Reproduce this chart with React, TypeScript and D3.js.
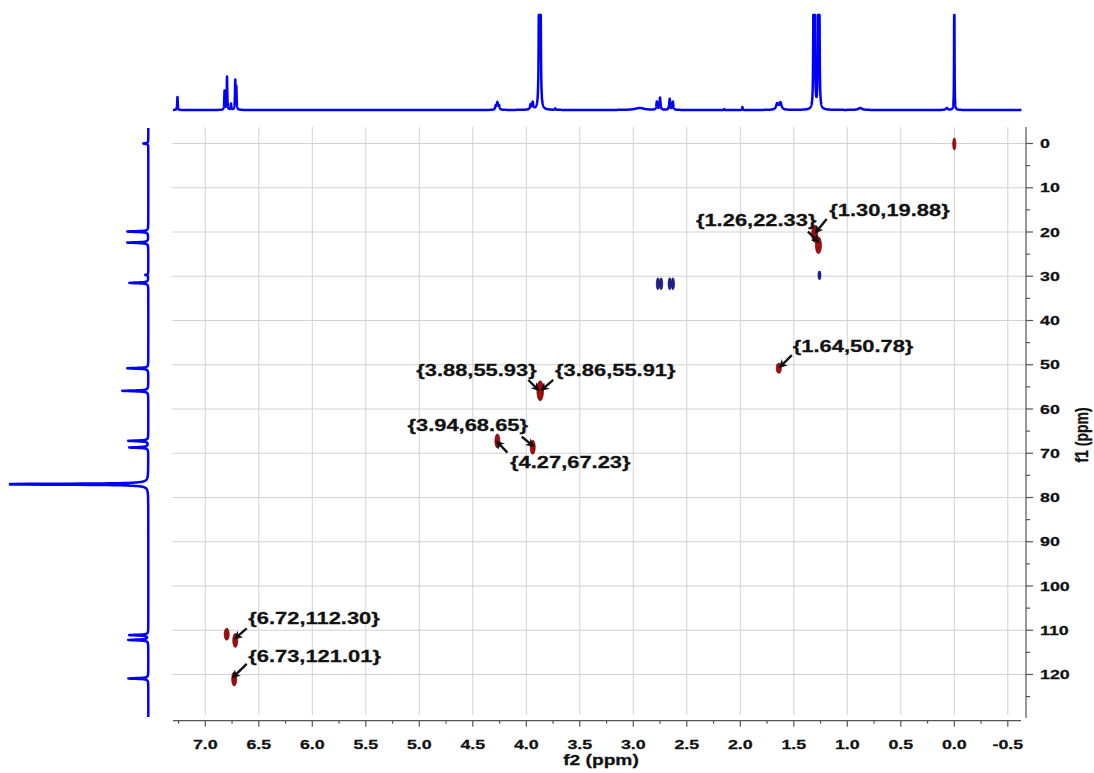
import React from "react";
import * as d3 from "d3";

// ---------- data ----------
const f2Ticks = [7.0, 6.5, 6.0, 5.5, 5.0, 4.5, 4.0, 3.5, 3.0, 2.5, 2.0, 1.5, 1.0, 0.5, 0.0, -0.5];
const f2TickLabels = ["7.0", "6.5", "6.0", "5.5", "5.0", "4.5", "4.0", "3.5", "3.0", "2.5", "2.0", "1.5", "1.0", "0.5", "0.0", "-0.5"];
const f1Ticks = [0, 10, 20, 30, 40, 50, 60, 70, 80, 90, 100, 110, 120];

// 1H projection peaks: ppm, height, half-width (ppm)
const hPpm = [7.26, 6.82, 6.797, 6.76, 6.72, 6.71, 4.285, 4.27, 4.255, 3.96, 3.94, 3.88, 3.868, 3.73, 2.94, 2.78, 2.75, 2.66, 2.63, 2.15, 1.98, 1.655, 1.625, 1.315, 1.305, 1.272, 1.262, 0.88, 0.07, 0.0];
const hHeight = [13, 19, 33, 6, 29, 22, 4, 7, 4, 5, 7, 220, 220, 1.5, 2, 8, 12, 11, 8, 1, 3, 6, 7, 200, 220, 200, 220, 2, 2, 220];
const hWidth = [0.003, 0.003, 0.003, 0.003, 0.003, 0.003, 0.006, 0.006, 0.006, 0.006, 0.006, 0.003, 0.003, 0.004, 0.05, 0.005, 0.005, 0.005, 0.005, 0.002, 0.002, 0.012, 0.012, 0.0025, 0.0025, 0.0025, 0.0025, 0.02, 0.01, 0.0015];

// 13C projection peaks: ppm, height
const cPpm = [0.0, 19.9, 22.4, 29.7, 31.5, 50.8, 55.9, 67.2, 68.7, 77.0, 111.1, 112.2, 120.9];
const cHeight = [5, 21, 21, 3, 19, 21, 26, 20, 19, 200, 19, 20, 20];

// HSQC cross peaks
const crossF2 = [0.0, 1.305, 1.27, 1.26, 2.77, 2.74, 2.66, 2.63, 1.64, 3.87, 4.27, 3.94, 6.80, 6.72, 6.73];
const crossF1 = [0.1, 20.4, 23.0, 29.8, 31.7, 31.7, 31.7, 31.7, 50.78, 55.9, 67.23, 68.65, 110.9, 112.3, 121.01];
const crossSign = [1, 1, 1, -1, -1, -1, -1, -1, 1, 1, 1, 1, 1, 1, 1];
const crossRx = [1.6, 3, 3, 1.5, 1.6, 1.6, 1.6, 1.6, 2.5, 3.3, 2.5, 2.5, 2.5, 2.5, 2.5];
const crossRy = [6, 8.5, 8.5, 4.5, 6, 6, 6, 6, 5, 10, 7, 7, 6, 7, 7];

// peak labels
const labelF2 = [1.30, 1.26, 3.88, 3.86, 3.94, 4.27, 1.64, 6.72, 6.73];
const labelF1 = [19.88, 22.33, 55.93, 55.91, 68.65, 67.23, 50.78, 112.30, 121.01];
const labelText = ["{1.30,19.88}", "{1.26,22.33}", "{3.88,55.93}", "{3.86,55.91}", "{3.94,68.65}", "{4.27,67.23}", "{1.64,50.78}", "{6.72,112.30}", "{6.73,121.01}"];
// layout: text offset, anchor, arrow start offset, arrow end offset (relative to peak px)
const labelLayout = [
  { tx: 14, ty: -15, anchor: "start", ax: 11.5, ay: -12.5, ex: 0.5, ey: 1 },
  { tx: -3, ty: -16, anchor: "end", ax: -11.5, ay: -10.6, ex: -1, ey: -0.5 },
  { tx: -2.4, ty: -15, anchor: "end", ax: -10.8, ay: -11, ex: -0.8, ey: -1 },
  { tx: 13.7, ty: -15, anchor: "start", ax: 12, ay: -11, ex: 0.4, ey: -1 },
  { tx: -4.7, ty: -16.3, anchor: "end", ax: -11, ay: -10.6, ex: 0.3, ey: -1.3 },
  { tx: 12.6, ty: 27.5, anchor: "start", ax: 10, ay: 11.7, ex: -0.4, ey: 0.7 },
  { tx: 14, ty: -16, anchor: "start", ax: 13, ay: -13, ex: 1.2, ey: -1.2 },
  { tx: 13, ty: -16.4, anchor: "start", ax: 11.4, ay: -12, ex: 0, ey: -2 },
  { tx: 14, ty: -17, anchor: "start", ax: 12.5, ay: -15, ex: -1.2, ey: -1.7 },
];

// ---------- layout ----------
const W = 1094, H = 773;
const x = d3.scaleLinear().domain([7.0, 0.0]).range([205.3, 954.3]);
const y = d3.scaleLinear().domain([0, 120]).range([143.5, 674.5]);
const PLOT_L = 172, PLOT_R = 1026, PLOT_T = 127, PLOT_B = 715;
const XAXIS_Y = 720.7, XAXIS_L = 173, XAXIS_R = 1021;
const YAXIS_X = 1026;
const H_BASE = 110, H_TOP = 15;
const C_BASE = 148.3, C_MIN = 10;
const SX = 1.37;
const FONT = "'Liberation Sans', Arial, sans-serif";
const BLUE = "#0000ff";

function lor(v: number, p: number, h: number, w: number) {
  const d = (v - p) / w;
  return h / (1 + d * d);
}

function hSpectrumPath() {
  const p0 = x.invert(XAXIS_L), p1 = x.invert(XAXIS_R + 0.5);
  const pts: [number, number][] = [];
  for (let v = p0; v >= p1; v -= 0.0008) {
    let s = 0;
    for (let i = 0; i < hPpm.length; i++) s += lor(v, hPpm[i], hHeight[i], hWidth[i]);
    pts.push([x(v), Math.max(H_TOP, H_BASE - s)]);
  }
  return d3.line()(pts) || "";
}

function cSpectrumPath() {
  const p0 = y.invert(128), p1 = y.invert(717);
  const pts: [number, number][] = [];
  for (let v = p0; v <= p1; v += 0.02) {
    let s = 0;
    for (let i = 0; i < cPpm.length; i++) s += lor(v, cPpm[i], cHeight[i], 0.1);
    pts.push([Math.max(C_MIN, C_BASE - s), y(v)]);
  }
  return d3.line()(pts) || "";
}

function SText(props: { x: number; y: number; size: number; anchor?: string; children: React.ReactNode; rotate?: boolean }) {
  const t = props.rotate
    ? `translate(${props.x},${props.y}) rotate(-90) scale(1,${SX})`
    : `translate(${props.x},${props.y}) scale(${SX},1)`;
  return (
    <text transform={t} fontFamily={FONT} fontWeight="bold" fontSize={props.size} fill="#111" stroke="#111" strokeWidth={0.25} textAnchor={props.anchor || "start"}>
      {props.children}
    </text>
  );
}

export default function App() {
  const hPath = React.useMemo(hSpectrumPath, []);
  const cPath = React.useMemo(cSpectrumPath, []);

  const minorX: number[] = [];
  for (let v = -0.5; v <= 7.25 + 1e-9; v += 0.25) minorX.push(v);
  const minorY: number[] = [];
  for (let v = 5; v <= 125; v += 10) minorY.push(v);

  return (
    <svg width={W} height={H} style={{ position: "absolute", left: 0, top: 0, background: "#fff" }}>
      <defs>
        <marker id="ah" viewBox="0 0 10 10" refX="8" refY="5" markerWidth="3.6" markerHeight="3.6" orient="auto-start-reverse">
          <path d="M0,0 L10,5 L0,10 L3,5 z" fill="#111" />
        </marker>
      </defs>
      {/* grid */}
      {f2Ticks.map((t) => (
        <line key={"gx" + t} x1={x(t)} x2={x(t)} y1={PLOT_T} y2={PLOT_B} stroke="#d2d2d2" strokeWidth={1} />
      ))}
      {f1Ticks.map((t) => (
        <line key={"gy" + t} x1={PLOT_L} x2={PLOT_R} y1={y(t)} y2={y(t)} stroke="#d2d2d2" strokeWidth={1} />
      ))}

      {/* projections */}
      <path d={hPath} fill="none" stroke={BLUE} strokeWidth={2.5} strokeLinejoin="round" />
      <path d={cPath} fill="none" stroke={BLUE} strokeWidth={2.5} strokeLinejoin="round" />

      {/* x axis */}
      <line x1={XAXIS_L} x2={XAXIS_R} y1={XAXIS_Y} y2={XAXIS_Y} stroke="#555" strokeWidth={1.2} />
      {minorX.map((t) => {
        const major = Math.abs(t * 2 - Math.round(t * 2)) < 1e-6;
        return <line key={"tx" + t} x1={x(t)} x2={x(t)} y1={XAXIS_Y} y2={XAXIS_Y + (major ? 6 : 3)} stroke="#555" strokeWidth={1.2} />;
      })}
      {f2Ticks.map((t, i) => (
        <SText key={"lx" + t} x={x(t)} y={749} size={13} anchor="middle">{f2TickLabels[i]}</SText>
      ))}
      <SText x={601} y={765} size={14} anchor="middle">f2 (ppm)</SText>

      {/* y axis */}
      <line x1={YAXIS_X} x2={YAXIS_X} y1={PLOT_T} y2={PLOT_B + 3} stroke="#555" strokeWidth={1.2} />
      {f1Ticks.map((t) => (
        <line key={"ty" + t} x1={YAXIS_X} x2={YAXIS_X + 7} y1={y(t)} y2={y(t)} stroke="#555" strokeWidth={1.2} />
      ))}
      {minorY.map((t) => (
        <line key={"my" + t} x1={YAXIS_X} x2={YAXIS_X + 4} y1={y(t)} y2={y(t)} stroke="#555" strokeWidth={1.2} />
      ))}
      {f1Ticks.map((t) => (
        <SText key={"ly" + t} x={1040} y={y(t) + 4.6} size={13}>{String(t)}</SText>
      ))}
      <SText x={1088} y={435} size={14} anchor="middle" rotate>f1 (ppm)</SText>

      {/* cross peaks */}
      {crossF2.map((p, i) => (
        <ellipse
          key={"cp" + i}
          cx={x(p)}
          cy={y(crossF1[i])}
          rx={crossRx[i]}
          ry={crossRy[i]}
          fill={crossSign[i] > 0 ? "#a30d0d" : "#1f1f99"}
          stroke={crossSign[i] > 0 ? "#6a0000" : "#10105e"}
          strokeWidth={0.7}
        />
      ))}

      {/* labels */}
      {labelF2.map((p, i) => {
        const px = x(p), py = y(labelF1[i]);
        const L = labelLayout[i];
        return (
          <g key={"lab" + i}>
            <line x1={px + L.ax} y1={py + L.ay} x2={px + L.ex} y2={py + L.ey} stroke="#111" strokeWidth={2.4} markerEnd="url(#ah)" />
            <SText x={px + L.tx} y={py + L.ty} size={16} anchor={L.anchor}>{labelText[i]}</SText>
          </g>
        );
      })}
    </svg>
  );
}
